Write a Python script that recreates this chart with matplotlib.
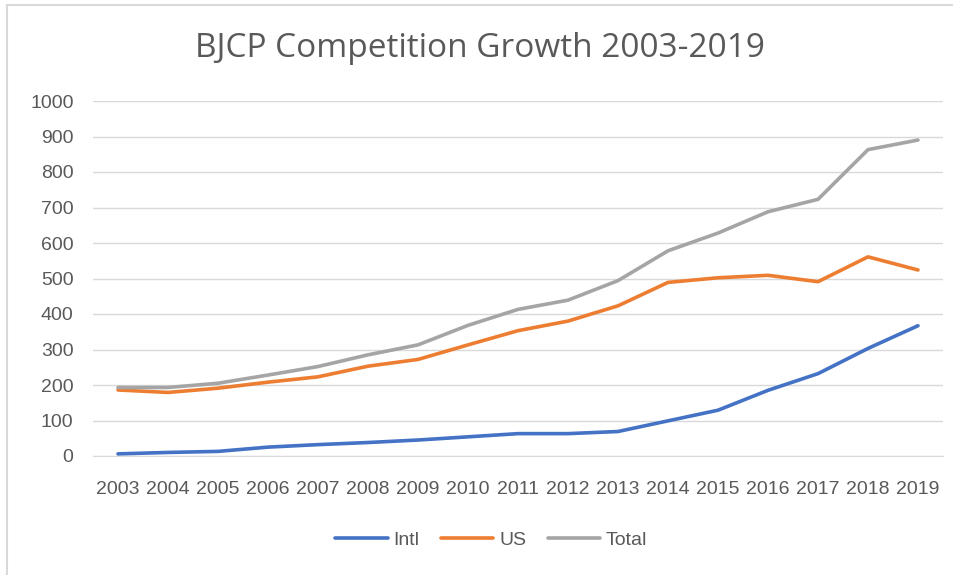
"""
BJCP Competition Growth 2003-2019 line chart
"""

import matplotlib
matplotlib.use('Agg')
import matplotlib.pyplot as plt
from matplotlib.lines import Line2D

# --- Data ---
years = [2003, 2004, 2005, 2006, 2007, 2008, 2009, 2010, 2011,
         2012, 2013, 2014, 2015, 2016, 2017, 2018, 2019]
intl = [6, 10, 13, 25, 32, 38, 45, 54, 63, 63, 69, 99, 129, 185, 232, 303, 367]
us = [186, 179, 191, 208, 223, 253, 272, 313, 353, 380, 423, 489, 502, 509, 491, 561, 524]
total = [193, 193, 205, 228, 252, 285, 313, 368, 413, 439, 494, 578, 628, 688, 723, 863, 890]

series = [('Intl', intl, '#4472C4'), ('US', us, '#ED7D31'), ('Total', total, '#A5A5A5')]
y_ticks = list(range(0, 1001, 100))

text_color = '#595959'
plt.rcParams['font.family'] = ['Liberation Sans', 'DejaVu Sans']

fig = plt.figure(figsize=(9.54, 5.75), dpi=100)
ax = fig.add_axes([93 / 954, (575 - 456) / 575, (943 - 93) / 954, (456 - 101) / 575])

for name, vals, color in series:
    ax.plot(years, vals, color=color, linewidth=2.6, label=name,
            solid_capstyle='round', solid_joinstyle='round', zorder=3)

ax.set_xlim(2002.5, 2019.5)
ax.set_ylim(0, 1000)
ax.set_xticks(years)
ax.set_xticklabels([str(y) for y in years])
ax.set_yticks(y_ticks)

ax.yaxis.grid(True, color='#D9D9D9', linewidth=1.0, zorder=0)
ax.set_axisbelow(True)
for s in ax.spines.values():
    s.set_visible(False)
ax.spines['bottom'].set_visible(True)
ax.spines['bottom'].set_color('#D9D9D9')

ax.tick_params(axis='both', length=0, labelsize=14, labelcolor=text_color)
ax.tick_params(axis='y', pad=14)
ax.tick_params(axis='x', pad=18)

fig.text(0.503, 0.916, 'BJCP Competition Growth 2003-2019', ha='center', va='center',
         fontsize=24, color=text_color, family=['Open Sans', 'DejaVu Sans'])

fig.legend(loc='center', bbox_to_anchor=(0.515, 0.061), ncol=3, frameon=False,
           fontsize=14, labelcolor=text_color, handlelength=2.7, handletextpad=0.3,
           columnspacing=1.1)

# chart-area frame (only top and left edges visible in the screenshot)
bx, by = 7 / 954, 1 - 5 / 575
fig.add_artist(Line2D([bx, 1], [by, by], transform=fig.transFigure, color='#D9D9D9', linewidth=1.5))
fig.add_artist(Line2D([bx, bx], [0, by], transform=fig.transFigure, color='#D9D9D9', linewidth=1.5))

plt.savefig('out.png', dpi=100)
